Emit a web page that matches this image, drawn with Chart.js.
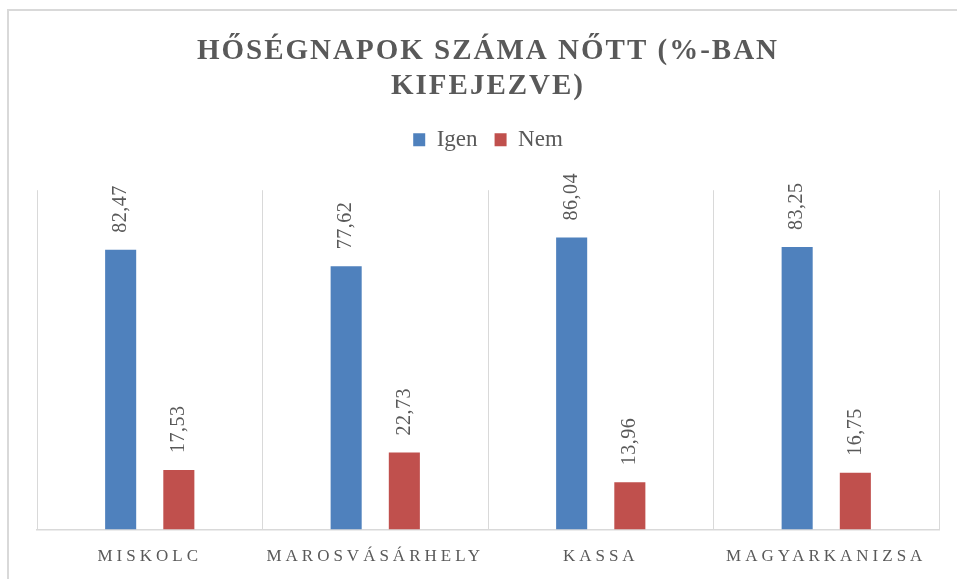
<!DOCTYPE html>
<html>
<head>
<meta charset="utf-8">
<script src="https://cdn.jsdelivr.net/npm/chart.js@4.4.1/dist/chart.umd.min.js"></script>
<style>
  html, body { margin: 0; padding: 0; background: #fff; overflow: hidden; }
  #wrap { position: relative; width: 957px; height: 579px; overflow: hidden; }
  #frame { position: absolute; left: 7px; top: 9px; width: 1100px; height: 700px;
           border-left: 2px solid #d9d9d9; border-top: 2px solid #d9d9d9; box-sizing: border-box; }
  canvas { position: absolute; left: 0; top: 0; }
</style>
</head>
<body>
<div id="wrap">
  <div id="frame"></div>
  <canvas id="c" width="957" height="579"></canvas>
</div>
<script>
const categories = ['MISKOLC', 'MAROSVÁSÁRHELY', 'KASSA', 'MAGYARKANIZSA'];
const igenValues = [82.47, 77.62, 86.04, 83.25];
const nemValues = [17.53, 22.73, 13.96, 16.75];
const titleLines = ['HŐSÉGNAPOK SZÁMA NŐTT (%-BAN', 'KIFEJEZVE)'];
const seriesNames = ['Igen', 'Nem'];

const SERIF = "'Liberation Serif', 'Times New Roman', serif";
const TEXT = '#595959';

function wrapSpacing(obj, method, sp) {
  if (!obj || obj['_sp_' + method]) return;
  const orig = obj[method];
  obj[method] = function (...args) {
    const ctx = this.ctx;
    const prev = ctx.letterSpacing;
    ctx.letterSpacing = sp;
    const r = orig.apply(this, args);
    ctx.letterSpacing = prev;
    return r;
  };
  obj['_sp_' + method] = true;
}

const spacingPlugin = {
  id: 'spacing',
  beforeDraw(chart) {
    wrapSpacing(chart.titleBlock, 'draw', '2px');
    wrapSpacing(chart.scales.x, 'drawLabels', '4px');
  }
};

const valueLabels = {
  id: 'valueLabels',
  afterDatasetsDraw(chart) {
    const ctx = chart.ctx;
    chart.data.datasets.forEach((ds, i) => {
      const meta = chart.getDatasetMeta(i);
      meta.data.forEach((bar, j) => {
        const v = ds.data[j];
        ctx.save();
        ctx.letterSpacing = '0.5px';
        ctx.translate(bar.x, bar.y - 17);
        ctx.rotate(-Math.PI / 2);
        ctx.font = '20px ' + SERIF;
        ctx.fillStyle = TEXT;
        ctx.textAlign = 'left';
        ctx.textBaseline = 'middle';
        ctx.fillText(v.toFixed(2).replace('.', ','), 0, 0);
        ctx.restore();
      });
    });
  }
};

new Chart(document.getElementById('c'), {
  type: 'bar',
  data: {
    labels: categories,
    datasets: [
      { label: seriesNames[0], data: igenValues, backgroundColor: '#4F81BD' },
      { label: seriesNames[1], data: nemValues, backgroundColor: '#C0504D' }
    ]
  },
  options: {
    responsive: false,
    animation: false,
    layout: { padding: { left: 37, right: 18, top: 34, bottom: -5 } },
    categoryPercentage: 0.516,
    barPercentage: 0.534,
    plugins: {
      title: {
        display: true,
        text: titleLines,
        color: TEXT,
        font: { family: SERIF, size: 29, weight: 'bold', lineHeight: 1.2 },
        padding: { top: 0, bottom: 7.6 }
      },
      subtitle: {
        display: true,
        text: '',
        weight: 500,
        font: { size: 1, lineHeight: 1 },
        padding: { top: 0, bottom: 28 }
      },
      legend: {
        display: true,
        position: 'top',
        labels: {
          color: TEXT,
          font: { family: SERIF, size: 23 },
          boxWidth: 12,
          boxHeight: 13,
          padding: 17
        }
      },
      tooltip: { enabled: false }
    },
    scales: {
      x: {
        grid: { display: true, offset: true, color: '#d9d9d9', lineWidth: 1, drawTicks: false },
        border: { display: true, color: '#d9d9d9', width: 1.5 },
        ticks: {
          color: TEXT,
          font: { family: SERIF, size: 17 },
          padding: 17,
          maxRotation: 0,
          autoSkip: false
        }
      },
      y: {
        display: false,
        min: 0,
        max: 100
      }
    }
  },
  plugins: [spacingPlugin, valueLabels]
});
</script>
</body>
</html>
